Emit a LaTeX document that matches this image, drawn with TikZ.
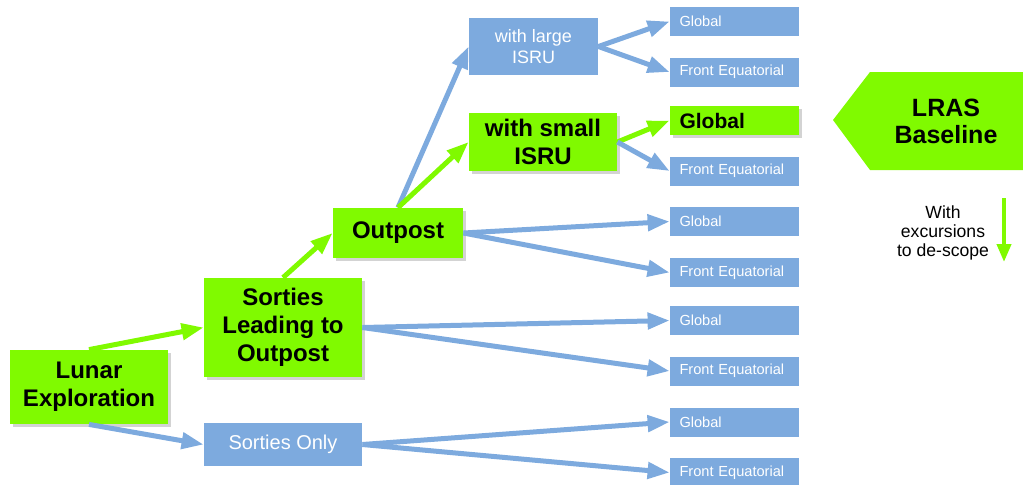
\documentclass[tikz,border=0pt]{standalone}
\usepackage{fontspec}
\setmainfont{Liberation Sans}
\usepackage{xcolor}
\usetikzlibrary{positioning, arrows.meta, shadows}
\definecolor{limegreen}{RGB}{128,250,0}
\definecolor{skyblue}{RGB}{125,170,222}

\begin{document}
\begin{tikzpicture}[
  x=0.5pt, y=-0.5pt,
  gbox/.style={fill=limegreen, align=center, inner sep=2pt,
    font=\bfseries\fontsize{12}{14}\selectfont,
    drop shadow={shadow xshift=1.5pt, shadow yshift=-1.5pt, opacity=0.35}},
  bbox/.style={fill=skyblue, text=white, align=center, inner sep=2pt,
    font=\fontsize{9}{10.5}\selectfont},
  leaf/.style={fill=skyblue, text=white, minimum height=14.5pt,
    text width=55pt, inner xsep=4.75pt, inner ysep=0pt, align=left,
    font=\fontsize{7.3}{9}\selectfont},
  gleaf/.style={leaf, fill=limegreen, text=black,
    font=\bfseries\fontsize{10.5}{12}\selectfont,
    drop shadow={shadow xshift=1.5pt, shadow yshift=-1.5pt, opacity=0.35}},
  barr/.style={-{Triangle[length=11pt, width=8pt]}, line width=2.5pt, color=skyblue},
  garr/.style={barr, color=limegreen}
]
\useasboundingbox (0,0) rectangle (1023,484);

\node[gbox, minimum width=79pt, minimum height=37pt] (lunar) at (89,387)
  {Lunar\\Exploration};
\node[gbox, minimum width=79pt, minimum height=49.5pt] (sortlead) at (283,327.5)
  {Sorties\\Leading to\\Outpost};
\node[bbox, minimum width=79pt, minimum height=21.5pt,
  font=\fontsize{10}{12}\selectfont] (sonly) at (283,444.5) {Sorties Only};
\node[gbox, minimum width=65pt, minimum height=25pt] (outpost) at (398,233)
  {Outpost};
\node[bbox, minimum width=64.5pt, minimum height=28.5pt] (large) at (533.5,46.5)
  {with large\\ISRU};
\node[gbox, minimum width=74pt, minimum height=29pt] (small) at (543,142)
  {with small\\ISRU};

\node[leaf] (glob1) at (734.5,21.5) {Global};
\node[leaf] (front1) at (734.5,72) {Front Equatorial};
\node[gleaf] (glob2) at (734.5,120.5) {Global};
\node[leaf] (front2) at (734.5,171) {Front Equatorial};
\node[leaf] (glob3) at (734.5,221.5) {Global};
\node[leaf] (front3) at (734.5,272.5) {Front Equatorial};
\node[leaf] (glob4) at (734.5,320.5) {Global};
\node[leaf] (front4) at (734.5,371) {Front Equatorial};
\node[leaf] (glob5) at (734.5,422) {Global};
\node[leaf] (front5) at (734.5,472.5) {Front Equatorial};

\fill[limegreen] (833,120) -- (870,72) -- (1023,72) -- (1023,170) -- (870,170) -- cycle;
\node[font=\bfseries\fontsize{12.5}{13.5}\selectfont, align=center] (lras) at (946,121)
  {LRAS\\Baseline};
\node[font=\fontsize{8.8}{9.3}\selectfont, align=center] (descope) at (943,233)
  {With\\excursions\\to de-scope};
\coordinate (dtop) at (1004,198);
\coordinate (dbot) at (1004,262);

\draw[garr] (lunar.north) -- (sortlead.west);
\draw[barr] (lunar.south) -- (sonly.west);
\draw[garr] (sortlead.north) -- (outpost.west);
\draw[barr] (outpost.north) -- (large.west);
\draw[garr] (outpost.north) -- (small.west);
\draw[barr] (large.east) -- (glob1.west);
\draw[barr] (large.east) -- (front1.west);
\draw[garr] (small.east) -- (glob2.west);
\draw[barr] (small.east) -- (front2.west);
\draw[barr] (outpost.east) -- (glob3.west);
\draw[barr] (outpost.east) -- (front3.west);
\draw[barr] (sortlead.east) -- (glob4.west);
\draw[barr] (sortlead.east) -- (front4.west);
\draw[barr] (sonly.east) -- (glob5.west);
\draw[barr] (sonly.east) -- (front5.west);
\draw[garr, line width=2pt, -{Triangle[length=9pt, width=7pt]}] (dtop) -- (dbot);
\end{tikzpicture}
\end{document}
